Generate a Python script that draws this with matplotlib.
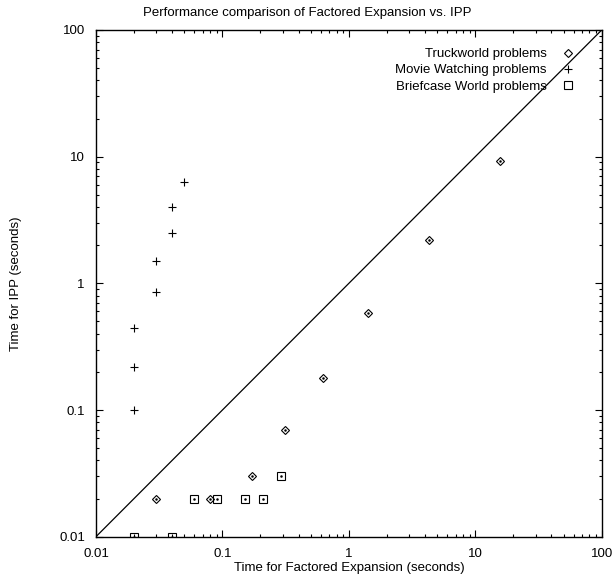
import matplotlib
matplotlib.use("Agg")
import matplotlib.pyplot as plt
from matplotlib.ticker import FuncFormatter, LogLocator, NullFormatter

matplotlib.rcParams["font.family"] = ["Liberation Sans", "DejaVu Sans"]

# ── data (seconds) ─────────────────────────────────────────────────
truck_fe = [0.03, 0.08, 0.17, 0.31, 0.63, 1.43, 4.3, 15.7]
truck_ipp = [0.02, 0.02, 0.03, 0.07, 0.18, 0.58, 2.2, 9.2]

movie_fe = [0.02, 0.02, 0.02, 0.03, 0.03, 0.04, 0.04, 0.05]
movie_ipp = [0.1, 0.22, 0.44, 0.85, 1.5, 2.5, 4.0, 6.3]

brief_fe = [0.02, 0.04, 0.06, 0.09, 0.15, 0.21, 0.29]
brief_ipp = [0.01, 0.01, 0.02, 0.02, 0.02, 0.02, 0.03]

diag = [0.01, 100]

FS = 9.5

fig = plt.figure(figsize=(6.15, 5.79), dpi=100)
ax = fig.add_axes([0.1561, 0.0731, 0.8223, 0.8751])

ax.plot(truck_fe, truck_ipp, linestyle="none", marker="D", markersize=3.8,
        markerfacecolor="none", markeredgecolor="black", markeredgewidth=0.8,
        label="Truckworld problems")
ax.plot(movie_fe, movie_ipp, linestyle="none", marker="+", markersize=6,
        color="black", markeredgewidth=0.8, label="Movie Watching problems")
ax.plot(brief_fe, brief_ipp, linestyle="none", marker="s", markersize=5.4,
        markerfacecolor="none", markeredgecolor="black", markeredgewidth=0.8,
        label="Briefcase World problems")
# gnuplot-style centre dots
ax.plot(truck_fe + brief_fe, truck_ipp + brief_ipp, linestyle="none",
        marker="o", markersize=0.8, color="black")
ax.plot(diag, diag, color="black", linewidth=0.9)

ax.set_xscale("log")
ax.set_yscale("log")
ax.set_xlim(0.01, 100)
ax.set_ylim(0.01, 100)

fmt = FuncFormatter(lambda v, p: f"{v:g}")
for a in (ax.xaxis, ax.yaxis):
    a.set_major_locator(LogLocator(base=10))
    a.set_minor_locator(LogLocator(base=10, subs=range(2, 10)))
    a.set_major_formatter(fmt)
    a.set_minor_formatter(NullFormatter())
ax.tick_params(which="both", direction="in", top=True, right=True,
               labelsize=FS, width=0.8, pad=8)
ax.tick_params(which="major", length=5)
ax.tick_params(which="minor", length=2.5)
for s in ax.spines.values():
    s.set_linewidth(1.0)

ax.set_xlabel("Time for Factored Expansion (seconds)", fontsize=FS, labelpad=1.5)
ax.set_ylabel("Time for IPP (seconds)", fontsize=FS, labelpad=27)
fig.text(0.5, 1 - 13 / 579, "Performance comparison of Factored Expansion vs. IPP",
         fontsize=FS, ha="center", va="center")

ax.legend(loc="upper right", bbox_to_anchor=(0.9587, 0.975), borderaxespad=0,
          markerfirst=False, frameon=False, fontsize=FS,
          handlelength=1.2, handletextpad=1.0, labelspacing=0.3)

fig.savefig("out.png", dpi=100)
